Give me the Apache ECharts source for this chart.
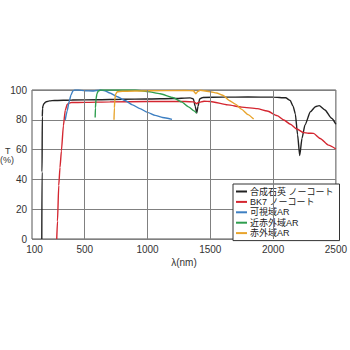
<!DOCTYPE html>
<html>
<head>
<meta charset="utf-8">
<script src="https://cdn.jsdelivr.net/npm/echarts@6/dist/echarts.min.js"></script>
<style>
  html, body { margin: 0; padding: 0; background: #fff; }
  #chart { width: 350px; height: 350px; }
</style>
</head>
<body>
<div id="chart"></div>
<script>
// transmission curves, [wavelength nm, T %]
const quartzData = [[158,0],[160,45],[162,82],[164,87.5],[168,89.5],[176,91],[190,92],[220,92.7],[260,93],[400,93.3],[600,93.5],[800,93.8],[1000,94],[1200,94.3],[1340,94.7],[1365,94],[1380,89],[1392,84.5],[1402,89],[1415,94],[1440,95],[1600,95.2],[1800,95.3],[2000,95.2],[2100,94.8],[2136,93],[2160,89],[2177,84],[2195,70],[2212,56],[2230,67.5],[2254,76.5],[2297,85.4],[2337,88.8],[2367,89.5],[2413,86.6],[2466,81],[2500,77]];
const bk7Data = [[277,0],[283,12],[293,36],[303,48],[314,59],[330,76],[345,86.5],[361,90.4],[375,91.2],[393,91.6],[500,91.7],[700,92],[1000,92.3],[1300,92.3],[1370,92],[1390,90.8],[1405,91.6],[1450,92.5],[1500,92.3],[1640,90],[1750,88.5],[1874,87.5],[1953,85.9],[2032,82.8],[2085,79.9],[2138,77],[2190,73.8],[2243,71.4],[2280,71],[2322,70.9],[2375,67.5],[2441,63],[2500,60.4]];
const visArData = [[345,80],[360,86],[375,92],[390,96.5],[405,99.3],[420,100],[450,100],[500,99.5],[560,99.3],[620,100],[660,99.5],[700,98],[760,95.5],[820,93],[880,90],[940,87.5],[1000,85],[1060,83],[1120,81.5],[1195,80.3]];
const nirArData = [[583,81.5],[585,88],[590,94],[597,97.5],[607,99.3],[625,100],[900,100],[1000,99],[1100,97.5],[1200,95],[1270,92],[1330,88.5],[1370,86],[1390,84.5]];
const irArData = [[733,80],[736,88],[740,94],[747,97.5],[760,98.8],[800,99.2],[1000,99.5],[1300,99.7],[1365,99.5],[1385,97.5],[1400,99],[1420,99.8],[1500,98.8],[1550,98],[1600,96.5],[1650,93],[1700,90.5],[1750,87],[1800,83.5],[1845,80.5]];

const seriesNames = ['合成石英 ノーコート', 'BK7 ノーコート', '可視域AR', '近赤外域AR', '赤外域AR'];
const seriesColors = ['#222222', '#d42630', '#3d7fc2', '#2e9e4e', '#e8a42c'];
const xTicks = [100, 500, 1000, 1500, 2000, 2500];
const xGrid = [500, 1000, 1500, 2000];

const font = '"Liberation Sans", Arial, "Noto Sans CJK JP", sans-serif';
const allData = [quartzData, bk7Data, visArData, nirArData, irArData];

const chart = echarts.init(document.getElementById('chart'), null, { renderer: 'svg' });

const series = allData.map((d, i) => ({
  name: seriesNames[i],
  type: 'line',
  data: d,
  showSymbol: false,
  smooth: 0.2,
  smoothMonotone: 'x',
  lineStyle: { color: seriesColors[i], width: 1.4 },
  itemStyle: { color: seriesColors[i] },
  z: 3
}));

// vertical grid lines at the labelled wavelengths
series.push({
  type: 'line',
  data: [],
  silent: true,
  z: 1,
  markLine: {
    silent: true,
    symbol: 'none',
    label: { show: false },
    lineStyle: { color: '#808080', type: 'solid', width: 1 },
    data: xGrid.map(v => ({ xAxis: v }))
  }
});

chart.setOption({
  animation: false,
  textStyle: { fontFamily: font },
  grid: { left: 32, right: 11, top: 90, bottom: 111, show: true, borderColor: '#555', borderWidth: 1, backgroundColor: '#fff' },
  xAxis: {
    type: 'value', min: 80, max: 2500,
    name: 'λ(nm)', nameLocation: 'middle', nameGap: 18,
    nameTextStyle: { fontSize: 10, color: '#333', fontFamily: font },
    axisLine: { show: false },
    axisTick: { show: false },
    splitLine: { show: false },
    axisLabel: { customValues: xTicks, formatter: v => String(v), fontSize: 10, color: '#333', margin: 5, fontFamily: font }
  },
  yAxis: {
    type: 'value', min: 0, max: 100, interval: 20,
    axisLine: { show: false },
    axisTick: { show: false },
    splitLine: { show: true, lineStyle: { color: '#808080', width: 1 } },
    axisLabel: { fontSize: 10, color: '#333', margin: 5, fontFamily: font }
  },
  legend: {
    data: seriesNames,
    orient: 'vertical',
    left: 233, top: 184,
    icon: 'rect', itemWidth: 11, itemHeight: 2, itemGap: 1.4,
    padding: [3, 6, 3, 3],
    backgroundColor: '#fff', borderColor: '#333', borderWidth: 1,
    textStyle: { fontSize: 9, color: '#222', fontFamily: font, padding: [0, 0, 0, -2] }
  },
  graphic: [
    { type: 'text', left: 5, top: 146, style: { text: 'T', fontSize: 9, fill: '#333', fontFamily: font } },
    { type: 'text', left: 0, top: 155, style: { text: '(%)', fontSize: 9, fill: '#333', fontFamily: font } }
  ],
  series: series
});
</script>
</body>
</html>
